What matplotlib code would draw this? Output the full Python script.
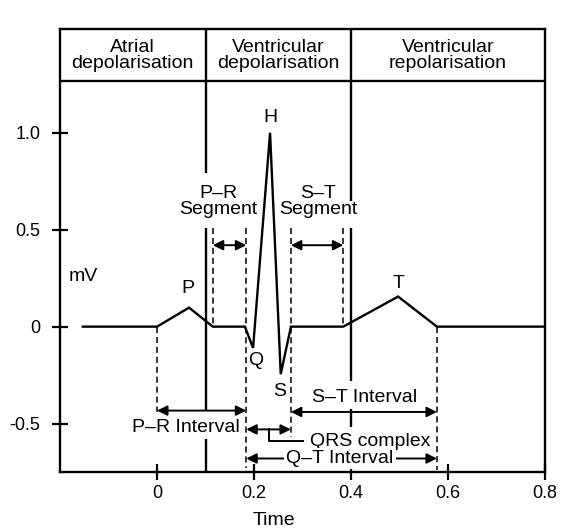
import matplotlib
matplotlib.use("Agg")
import matplotlib.pyplot as plt

plt.rcParams["font.family"] = ["Liberation Sans", "DejaVu Sans"]

# ECG trace (time in s, voltage in mV)
ecg_t = [-0.153, 0.0, 0.066, 0.115, 0.181, 0.198, 0.233, 0.255, 0.276, 0.384, 0.497, 0.577, 0.8]
ecg_mv = [0.0, 0.0, 0.098, 0.0, 0.0, -0.11, 1.0, -0.245, 0.0, 0.0, 0.155, 0.0, 0.0]

# phase header
header_names = ["Atrial\ndepolarisation", "Ventricular\ndepolarisation", "Ventricular\nrepolarisation"]
header_edges = [-0.2, 0.1, 0.4, 0.8]
header_low = 1.268

# solid divider pieces: (x, y_top, y_bottom)
dividers = [
    (0.1, 1.534, 0.79), (0.1, 0.51, -0.433), (0.1, -0.577, -0.75),
    (0.4, 1.534, 0.65), (0.4, 0.51, -0.28), (0.4, -0.423, -0.52),
]

# dashed guides: (x, y_top, y_bottom)
guides = [
    (0.0, 0.0, -0.44),
    (0.115, 0.51, 0.0),
    (0.184, 0.51, -0.73),
    (0.276, 0.51, -0.57),
    (0.384, 0.51, 0.0),
    (0.577, 0.0, -0.74),
]

# double arrows: (x_start, x_end, y)
spans = [
    (0.115, 0.184, 0.42),    # P-R segment
    (0.276, 0.384, 0.42),    # S-T segment
    (0.0, 0.184, -0.433),    # P-R interval
    (0.276, 0.577, -0.44),   # S-T interval
    (0.184, 0.276, -0.53),   # QRS complex
    (0.184, 0.577, -0.68),   # Q-T interval
]

# QRS leader line
leader_x = [0.231, 0.231, 0.30]
leader_y = [-0.53, -0.59, -0.59]

# labels: (x, y, text, ha)
labels = [
    (0.233, 1.08, "H", "center"),
    (0.064, 0.196, "P", "center"),
    (0.497, 0.22, "T", "center"),
    (0.203, -0.175, "Q", "center"),
    (0.252, -0.335, "S", "center"),
    (-0.151, 0.26, "mV", "center"),
    (0.126, 0.645, "P\u2013R\nSegment", "center"),
    (0.332, 0.645, "S\u2013T\nSegment", "center"),
    (0.06, -0.52, "P\u2013R Interval", "center"),
    (0.427, -0.366, "S\u2013T Interval", "center"),
    (0.316, -0.59, "QRS complex", "left"),
]
qt_label = (0.377, -0.68, "Q\u2013T Interval")

x_ticks = [0, 0.2, 0.4, 0.6, 0.8]
x_tick_labels = ["0", "0.2", "0.4", "0.6", "0.8"]
y_ticks = [1.0, 0.5, 0, -0.5]
y_tick_labels = ["1.0", "0.5", "0", "-0.5"]

fig = plt.figure(figsize=(5.7, 5.31), dpi=100)
ax = fig.add_axes([0.1053, 0.111, 0.851, 0.834])
ax.set_xlim(-0.2, 0.8)
ax.set_ylim(-0.75, 1.534)

lw = 1.7
for s in ax.spines.values():
    s.set_linewidth(lw)

ax.plot(ecg_t, ecg_mv, color="black", lw=lw, solid_joinstyle="miter")

# header
ax.plot([header_edges[0], header_edges[-1]], [header_low, header_low], color="black", lw=lw)
for i, name in enumerate(header_names):
    xc = (header_edges[i] + header_edges[i + 1]) / 2
    ax.text(xc, 1.40, name, ha="center", va="center", fontsize=14, linespacing=0.9)

for x, y0, y1 in dividers:
    ax.plot([x, x], [y0, y1], color="black", lw=lw, solid_capstyle="butt")

for x, y0, y1 in guides:
    ax.plot([x, x], [y0, y1], color="black", lw=1.1, ls=(0, (4, 2.5)))

for x0, x1, y in spans:
    ax.annotate("", xy=(x1, y), xytext=(x0, y),
                arrowprops=dict(arrowstyle="<|-|>", lw=1.4, color="black",
                                mutation_scale=15, shrinkA=0, shrinkB=0))

ax.plot(leader_x, leader_y, color="black", lw=1.4)

for x, y, txt, ha in labels:
    ax.text(x, y, txt, ha=ha, va="center", fontsize=14, linespacing=0.9)

ax.text(qt_label[0], qt_label[1], qt_label[2], ha="center", va="center", fontsize=14,
        bbox=dict(facecolor="white", edgecolor="none", pad=1.5))

ax.set_xticks(x_ticks)
ax.set_xticklabels(x_tick_labels)
ax.set_yticks(y_ticks)
ax.set_yticklabels(y_tick_labels)
ax.tick_params(direction="inout", length=12, width=1.6, labelsize=13)
ax.tick_params(axis="y", pad=8)
ax.tick_params(axis="x", pad=3)

ax.set_xlabel("Time", fontsize=14)
ax.xaxis.set_label_coords(0.44, -0.09)

fig.savefig("out.png", dpi=100)
